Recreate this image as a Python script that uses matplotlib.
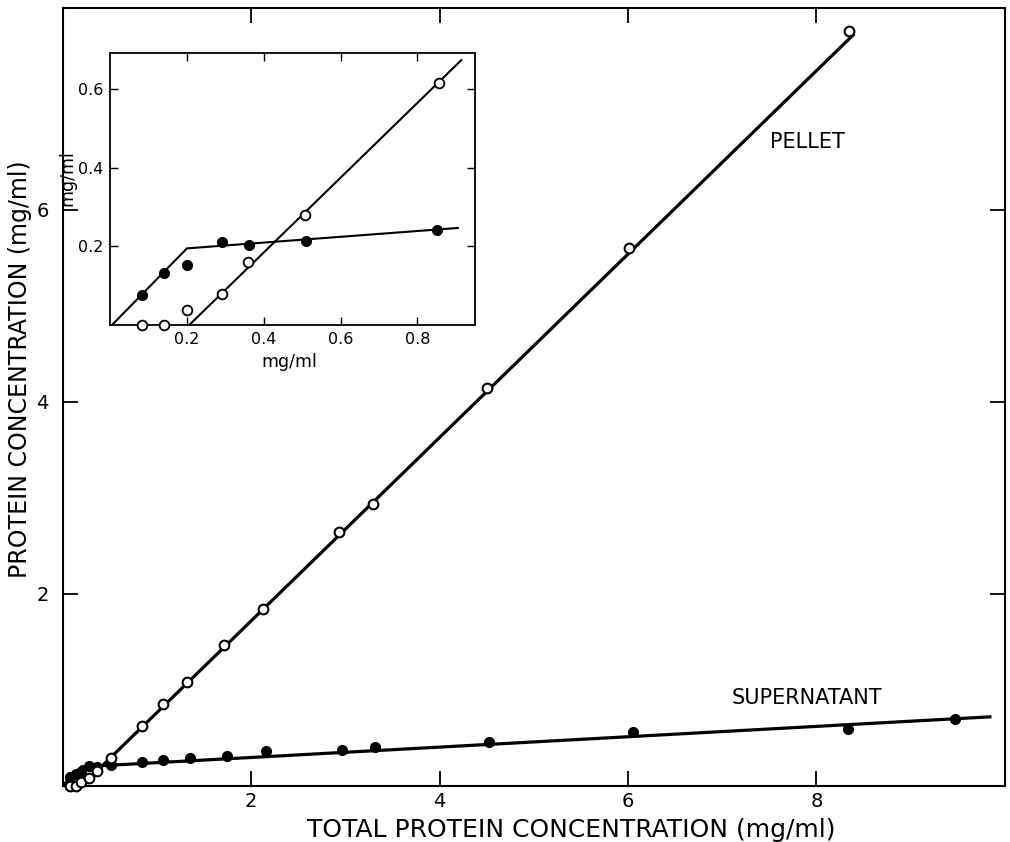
import matplotlib
matplotlib.use("Agg")
import matplotlib.pyplot as plt
import numpy as np

# ---------------- data ----------------
# Main panel: pellet (open circles)
pellet_x = [0.08, 0.14, 0.20, 0.28, 0.36, 0.51, 0.84, 1.06, 1.32, 1.71, 2.13, 2.93, 3.29, 4.50, 6.01, 8.34]
pellet_y = [0.00, 0.00, 0.04, 0.08, 0.16, 0.29, 0.62, 0.85, 1.08, 1.47, 1.84, 2.64, 2.94, 4.14, 5.60, 7.86]
# Main panel: supernatant (filled circles)
super_x = [0.08, 0.14, 0.20, 0.28, 0.36, 0.51, 0.84, 1.06, 1.35, 1.74, 2.16, 2.97, 3.32, 4.52, 6.05, 8.33, 9.47]
super_y = [0.09, 0.13, 0.15, 0.21, 0.20, 0.22, 0.25, 0.27, 0.29, 0.31, 0.36, 0.37, 0.41, 0.46, 0.56, 0.59, 0.70]
# Fitted lines (main panel)
pellet_fit_x = [0.20, 8.39]
pellet_fit_y = [0.00, 7.82]
super_fit_x = [0.00, 0.20, 9.84]
super_fit_y = [0.00, 0.20, 0.72]

# Inset: low-concentration region
in_pellet_x = [0.082, 0.141, 0.200, 0.290, 0.360, 0.507, 0.856]
in_pellet_y = [0.000, 0.000, 0.038, 0.080, 0.160, 0.279, 0.617]
in_super_x = [0.082, 0.141, 0.200, 0.290, 0.362, 0.510, 0.852]
in_super_y = [0.076, 0.133, 0.153, 0.211, 0.204, 0.215, 0.243]
in_pellet_fit_x = [0.206, 0.914]
in_pellet_fit_y = [0.000, 0.674]
in_super_fit_x = [0.005, 0.200, 0.905]
in_super_fit_y = [0.000, 0.195, 0.247]

main_xticks = [2, 4, 6, 8]
main_yticks = [2, 4, 6]
inset_xticks = [0.2, 0.4, 0.6, 0.8]
inset_yticks = [0.2, 0.4, 0.6]

# ---------------- figure ----------------
plt.rcParams['font.family'] = ['DejaVu Sans']
fig = plt.figure(figsize=(10.10, 8.42), dpi=100)
ax = fig.add_axes([0.062, 0.0665, 0.933, 0.924])

lw_data = 2.3
ax.plot(pellet_fit_x, pellet_fit_y, color='black', lw=lw_data, zorder=2)
ax.plot(super_fit_x, super_fit_y, color='black', lw=lw_data, zorder=2)
ax.plot(pellet_x, pellet_y, 'o', ms=7, mfc='white', mec='black', mew=1.5, zorder=4, clip_on=False)
ax.plot(super_x, super_y, 'o', ms=7, mfc='black', mec='black', mew=1.0, zorder=3, clip_on=False)

ax.set_xlim(0, 10.0)
ax.set_ylim(0, 8.1)
ax.set_xticks(main_xticks)
ax.set_yticks(main_yticks)
ax.set_xticklabels([str(v) for v in main_xticks])
ax.set_yticklabels([str(v) for v in main_yticks])
ax.tick_params(direction='in', length=11, width=1.3, labelsize=14,
               top=True, right=True, pad=4)
ax.tick_params(axis='y', pad=10)
for s in ax.spines.values():
    s.set_linewidth(1.5)

ax.set_xlabel('TOTAL PROTEIN CONCENTRATION (mg/ml)', fontsize=18, va='center')
ax.xaxis.set_label_coords(0.54, -0.056)
ax.set_ylabel('PROTEIN CONCENTRATION (mg/ml)', fontsize=17, va='center')
ax.yaxis.set_label_coords(-0.045, 0.536)

ax.text(7.9, 6.70, 'PELLET', fontsize=15, ha='center', va='center')
ax.text(7.9, 0.92, 'SUPERNATANT', fontsize=15, ha='center', va='center')

# ---------------- inset ----------------
ins = fig.add_axes([0.109, 0.614, 0.3614, 0.3234])
ins.plot(in_pellet_fit_x, in_pellet_fit_y, color='black', lw=1.5, zorder=2)
ins.plot(in_super_fit_x, in_super_fit_y, color='black', lw=1.5, zorder=2)
ins.plot(in_pellet_x, in_pellet_y, 'o', ms=7, mfc='white', mec='black', mew=1.3, zorder=4, clip_on=False)
ins.plot(in_super_x, in_super_y, 'o', ms=7, mfc='black', mec='black', mew=1.0, zorder=3, clip_on=False)
ins.set_xlim(0, 0.95)
ins.set_ylim(0, 0.693)
ins.set_xticks(inset_xticks)
ins.set_yticks(inset_yticks)
ins.set_xticklabels(['%.1f' % v for v in inset_xticks])
ins.set_yticklabels(['%.1f' % v for v in inset_yticks])
ins.tick_params(direction='in', length=6, width=1.0, labelsize=11.5,
                top=True, right=True, pad=5)
for s in ins.spines.values():
    s.set_linewidth(1.3)
ins.set_xlabel('mg/ml', fontsize=12.5, va='center')
ins.xaxis.set_label_coords(0.49, -0.136)
ins.set_ylabel('mg/ml', fontsize=12.5, va='center')
ins.yaxis.set_label_coords(-0.118, 0.54)

fig.savefig('out.png', dpi=100)
